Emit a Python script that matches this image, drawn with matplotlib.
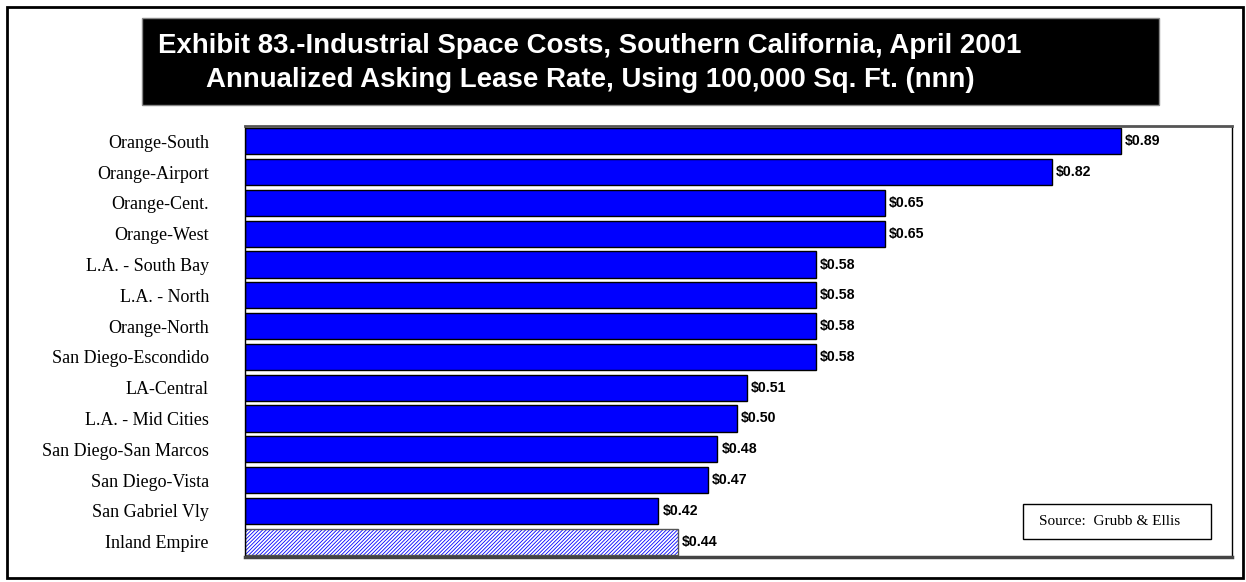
import matplotlib.pyplot as plt
from matplotlib.patches import Rectangle

regions = ['Orange-South', 'Orange-Airport', 'Orange-Cent.', 'Orange-West',
           'L.A. - South Bay', 'L.A. - North', 'Orange-North', 'San Diego-Escondido',
           'LA-Central', 'L.A. - Mid Cities', 'San Diego-San Marcos', 'San Diego-Vista',
           'San Gabriel Vly', 'Inland Empire']
rates = [0.89, 0.82, 0.65, 0.65, 0.58, 0.58, 0.58, 0.58, 0.51, 0.50, 0.48, 0.47, 0.42, 0.44]
value_labels = ['$%.2f' % v for v in rates]

plt.rcParams['hatch.linewidth'] = 0.6

W, H = 1246, 582
fig = plt.figure(figsize=(W / 100, H / 100), dpi=100)
fig.patch.set_facecolor('white')

# outer frame
fig.patches.append(Rectangle((7 / W, 4 / H), 1236 / W, 571 / H, transform=fig.transFigure,
                             fill=False, edgecolor='black', linewidth=2))

# black title block
fig.patches.append(Rectangle((142 / W, 1 - 105 / H), 1017 / W, 87 / H, transform=fig.transFigure,
                             facecolor='black', edgecolor='#888888', linewidth=1))
fig.text(590 / W, 1 - 53 / H, 'Exhibit 83.-Industrial Space Costs, Southern California, April 2001',
         color='white', fontsize=19.9, fontweight='bold', family='Liberation Sans',
         ha='center', va='baseline')
fig.text(590 / W, 1 - 87 / H, 'Annualized Asking Lease Rate, Using 100,000 Sq. Ft. (nnn)',
         color='white', fontsize=19.9, fontweight='bold', family='Liberation Sans',
         ha='center', va='baseline')

ax = fig.add_axes([245 / W, 1 - 557 / H, 987 / W, 431 / H])
ypos = list(range(len(regions)))

for i, (r, v) in enumerate(zip(regions, rates)):
    if r == 'Inland Empire':
        ax.barh(i, v, height=0.85, color='white', edgecolor='#0000ff', hatch='/////////', linewidth=0)
        ax.barh(i, v, height=0.85, fill=False, edgecolor='#555555', linewidth=1)
    else:
        ax.barh(i, v, height=0.85, color='#0000ff', edgecolor='black', linewidth=1)
    ax.annotate(value_labels[i], (v, i), xytext=(3, 0), textcoords='offset points',
                ha='left', va='center', fontsize=10.2, fontweight='bold',
                family='Liberation Sans')

ax.set_xlim(0, 1.003)
ax.set_ylim(len(regions) - 0.5, -0.5)
ax.set_xticks([])
ax.set_yticks(ypos)
ax.set_yticklabels(regions, family='Liberation Serif', fontsize=13)
ax.tick_params(axis='y', length=0, pad=26)

for side in ['left', 'right']:
    ax.spines[side].set_color('black')
    ax.spines[side].set_linewidth(1)
ax.spines['top'].set_color('#555555')
ax.spines['top'].set_linewidth(2)
ax.spines['bottom'].set_color('#444444')
ax.spines['bottom'].set_linewidth(2.5)

# source note
ax.add_patch(Rectangle((0.788, 0.042), 0.191, 0.081, transform=ax.transAxes,
                       facecolor='white', edgecolor='black', linewidth=1))
ax.text(0.876, 0.0824, 'Source:  Grubb & Ellis', transform=ax.transAxes, ha='center', va='center',
        family='Liberation Serif', fontsize=11)

fig.savefig('out.png', dpi=100)
